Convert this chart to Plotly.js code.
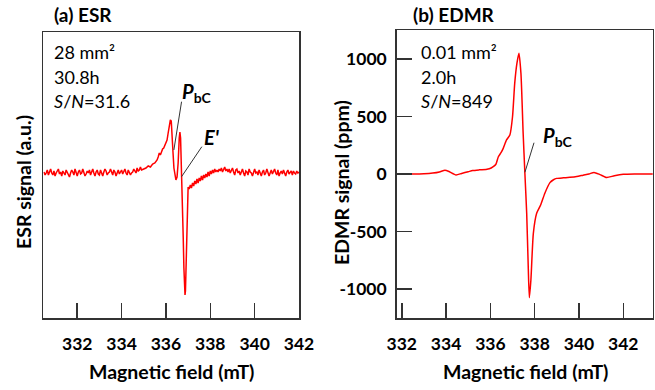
<!DOCTYPE html>
<html>
<head>
<meta charset="utf-8">
<script src="https://cdn.plot.ly/plotly-3.0.1.min.js"></script>
<style>html,body{margin:0;padding:0;background:#fff}#chart{width:655px;height:390px}</style>
</head>
<body>
<div id="chart"></div>
<script>
// ---- ESR spectrum (arbitrary units, baseline 0) ----
const esrField = [
330.5,330.55,330.6,330.65,330.7,330.75,330.8,330.85,330.9,330.95,
331.0,331.05,331.1,331.15,331.2,331.25,331.3,331.35,331.4,331.45,
331.5,331.55,331.6,331.65,331.7,331.75,331.8,331.85,331.9,331.95,
332.0,332.05,332.1,332.15,332.2,332.25,332.3,332.35,332.4,332.45,
332.5,332.55,332.6,332.65,332.7,332.75,332.8,332.85,332.9,332.95,
333.0,333.05,333.1,333.15,333.2,333.25,333.3,333.35,333.4,333.45,
333.5,333.55,333.6,333.65,333.7,333.75,333.8,333.85,333.9,333.95,
334.0,334.05,334.1,334.15,334.2,334.25,334.3,334.35,334.4,334.45,
334.5,334.55,334.6,334.65,334.7,334.75,334.8,334.85,334.9,334.95,
335.0,335.1,335.2,335.3,335.4,335.5,335.6,335.65,335.7,335.75,335.8,335.85,335.9,335.95,336.0,
336.05,336.1,336.15,336.2,336.24,336.28,336.32,336.36,336.4,336.45,336.5,336.55,336.6,336.63,336.66,
336.69,336.72,336.75,336.78,336.81,336.84,336.86,336.88,336.9,336.93,336.96,336.98,337.0,337.05,337.1,
337.15,337.2,337.25,337.3,337.35,337.4,337.45,337.5,337.55,337.6,337.65,337.7,337.75,337.8,337.85,
337.9,337.95,338.0,338.05,338.1,338.15,338.2,338.25,338.3,
338.35,338.4,338.45,338.5,338.55,338.6,338.65,338.7,338.75,338.8,
338.85,338.9,338.95,339.0,339.05,339.1,339.15,339.2,339.25,339.3,
339.35,339.4,339.45,339.5,339.55,339.6,339.65,339.7,339.75,339.8,
339.85,339.9,339.95,340.0,340.05,340.1,340.15,340.2,340.25,340.3,
340.35,340.4,340.45,340.5,340.55,340.6,340.65,340.7,340.75,340.8,
340.85,340.9,340.95,341.0,341.05,341.1,341.15,341.2,341.25,341.3,
341.35,341.4,341.45,341.5,341.55,341.6,341.65,341.7,341.75,341.8,
341.85,341.9,341.95,342.0
];
const esrSignal = [
1,-2,0,3,-2,1,4,0,-2,2,
-3,0,2,4,-1,1,-3,2,0,-2,
3,1,-2,-4,0,3,1,-2,4,0,
-3,1,3,-1,0,4,1,-3,-1,2,
0,3,-2,1,4,0,-3,1,3,-1,
-2,3,0,-3,1,4,2,-2,0,1,
4,0,-2,3,1,-3,0,3,-1,1,
3,-1,1,4,0,-2,3,1,-2,0,
1,4,2,0,5,2,3,6,3,4,
4,5,7,6,9,10,13,16,20,18,22,24,25,28,30,
33,40,48,53,52,40,20,5,-3,-7,-4,10,35,41,35,
15,-2,-30,-65,-95,-115,-122,-118,-100,-65,-30,-17,-14,-16,-12,
-15,-10,-13,-8,-11,-6,-10,-5,-8,-3,-7,-2,-5,-1,-4,
1,-3,2,-1,3,0,4,1,3,
1,4,2,5,1,3,6,2,4,1,
4,0,2,5,1,-2,3,4,0,2,
-2,1,4,0,-3,2,1,-2,4,1,
0,-3,2,4,0,1,-2,3,0,-3,
1,3,-2,0,4,1,-3,0,3,-1,
1,4,0,-2,3,-3,0,2,-1,3,
0,-3,1,3,-1,0,2,-2,2,0,
-1,2,0,1
];

// ---- EDMR spectrum (ppm) ----
const edmrField = [
331.8,332.5,333.0,333.4,333.7,333.95,334.15,334.45,334.7,335.0,335.2,335.5,335.8,335.95,336.13,
336.25,336.36,336.48,336.58,336.73,336.88,337.0,337.1,337.2,337.29,337.38,337.48,337.56,337.64,337.71,
337.76,337.83,337.94,338.09,338.27,338.46,338.69,338.85,338.99,339.3,339.59,339.9,340.19,340.45,340.68,
340.95,341.25,341.6,342.0,342.5,343.4
];
const edmrSignal = [
0,0,2,8,18,33,20,-8,5,20,30,36,40,45,64,
85,150,185,223,296,339,498,790,964,1050,875,354,0,-342,-806,
-1075,-922,-516,-342,-270,-167,-75,-50,-38,-33,-29,-22,-10,0,14,
-5,-30,-15,-3,0,0
];

// ---- axes ----
const xTicks = [332,334,336,338,340,342];
const edmrTicks = [-1000,-500,0,500,1000];
const edmrTickText = ['-1000','-500','0','500','1000'];

const FONT = 'Lato, "Open Sans", sans-serif';
const axisCol = '#333333';
const red = '#ff0000';

const traces = [
  {x: esrField, y: esrSignal, xaxis:'x', yaxis:'y', mode:'lines',
   line:{color:red, width:1.5}, hoverinfo:'skip', showlegend:false},
  {x: edmrField, y: edmrSignal, xaxis:'x2', yaxis:'y2', mode:'lines',
   line:{color:red, width:1.5, shape:'spline', smoothing:0.6}, hoverinfo:'skip', showlegend:false}
];

const baseX = {
  tickvals: xTicks, ticks:'inside', ticklen:15, tickwidth:1.5, tickcolor:axisCol,
  showline:true, linecolor:axisCol, linewidth:1.5, mirror:true,
  showgrid:false, zeroline:false, ticklabelstandoff:9,
  tickfont:{family:FONT, size:17.5, color:'#000', weight:'bold'}
};

const W = 655, H = 390;
const px = v => v / W, py = v => 1 - v / H;

function txt(x, y, text, size, opts) {
  return Object.assign({xref:'paper', yref:'paper', x:px(x), y:py(y), text:text,
    showarrow:false, xanchor:'left', yanchor:'middle',
    font:{family:FONT, size:size, color:'#000'}}, opts || {});
}

const layout = {
  width: W, height: H,
  margin:{l:0, r:0, t:0, b:0},
  paper_bgcolor:'#fff', plot_bgcolor:'#fff',
  showlegend:false,
  xaxis: Object.assign({}, baseX, {domain:[px(43.3), px(299)], range:[330.47, 342], anchor:'y'}),
  yaxis: {domain:[py(318), py(32)], range:[-145, 141], showticklabels:false, ticks:'',
    showline:true, linecolor:axisCol, linewidth:1.5, mirror:true, showgrid:false, zeroline:false, anchor:'x'},
  xaxis2: Object.assign({}, baseX, {domain:[px(396.7), px(652.7)], range:[331.77, 343.33], anchor:'y2'}),
  yaxis2: {domain:[py(318), py(30)], range:[-1252, 1252], tickvals: edmrTicks, ticktext: edmrTickText,
    ticks:'inside', ticklen:15, tickwidth:1.5, tickcolor:axisCol,
    showline:true, linecolor:axisCol, linewidth:1.5, mirror:true, showgrid:false, zeroline:false,
    anchor:'x2', ticklabelstandoff:5,
    tickfont:{family:FONT, size:17.5, color:'#000', weight:'bold'}},
  shapes: [
    {type:'line', xref:'x', yref:'y', x0:336.704, y0:71.3, x1:336.357, y1:23, line:{color:'#333', width:1}},
    {type:'line', xref:'x', yref:'y', x0:337.619, y0:26.3, x1:336.704, y1:-3.7, line:{color:'#333', width:1}},
    {type:'line', xref:'x2', yref:'y2', x0:337.97, y0:272, x1:337.56, y1:15, line:{color:'#333', width:1}}
  ],
  annotations: [
    txt(52, 15, '<b>(a) ESR</b>', 19),
    txt(410.5, 15, '<b>(b) EDMR</b>', 19),
    txt(52, 52, '28 mm²', 18),
    txt(52, 77, '30.8h', 18),
    txt(52, 101, '<i>S</i>/<i>N</i>=31.6', 18),
    txt(418.5, 52, '0.01 mm²', 18),
    txt(418.5, 77, '2.0h', 18),
    txt(418.5, 101, '<i>S</i>/<i>N</i>=849', 18),
    txt(180, 92, '<b><i>P</i></b><sub><b>bC</b></sub>', 20),
    txt(202, 137, "<b><i>E'</i></b>", 20),
    txt(541, 136, '<b><i>P</i></b><sub><b>bC</b></sub>', 20),
    // axis titles
    txt(171, 371, '<b>Magnetic field (mT)</b>', 19.5, {xanchor:'center'}),
    txt(525, 371, '<b>Magnetic field (mT)</b>', 19.5, {xanchor:'center'}),
    txt(23, 182, '<b>ESR signal (a.u.)</b>', 19.5, {xanchor:'center', textangle:-90}),
    txt(341, 183, '<b>EDMR signal (ppm)</b>', 19.5, {xanchor:'center', textangle:-90})
  ]
};

Plotly.newPlot('chart', traces, layout, {staticPlot:true, displayModeBar:false});
</script>
</body>
</html>
